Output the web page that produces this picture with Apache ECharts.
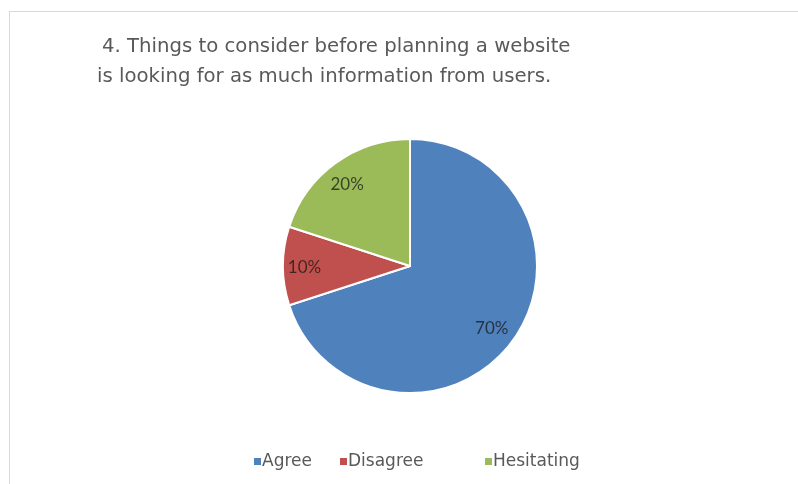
<!DOCTYPE html>
<html>
<head>
<meta charset="utf-8">
<script src="https://cdn.jsdelivr.net/npm/echarts@6/dist/echarts.min.js"></script>
<style>
  html, body { margin: 0; padding: 0; background: #ffffff; }
  #chart { width: 798px; height: 484px; }
</style>
</head>
<body>
<div id="chart"></div>
<script>
// Survey answers for statement 4
const titleLines = [
  '4. Things to consider before planning a website',
  'is looking for as much information from users.'
];
const categories = ['Agree', 'Disagree', 'Hesitating'];
const shares = [70, 10, 20];
const sliceColors = ['#4F81BD', '#C0504D', '#9BBB59'];

const pieData = categories.map((name, i) => ({
  name: name,
  value: shares[i],
  itemStyle: { color: sliceColors[i] }
}));

const chart = echarts.init(document.getElementById('chart'), null, { renderer: 'canvas' });

const legendLefts = [254, 340, 485];
const titleFont = { fontFamily: 'DejaVu Sans', fontSize: 19.7, fontWeight: 'normal', color: '#595959' };

chart.setOption({
  backgroundColor: '#ffffff',
  animation: false,
  title: [
    { text: titleLines[0], left: 102, top: 37, padding: 0, textStyle: titleFont },
    { text: titleLines[1], left: 97, top: 67, padding: 0, textStyle: titleFont }
  ],
  legend: categories.map((name, i) => ({
    data: [name],
    left: legendLefts[i],
    top: 453,
    padding: 0,
    icon: 'rect',
    itemWidth: 7,
    itemHeight: 7,
    itemGap: 2,
    selectedMode: false,
    itemStyle: { borderWidth: 0 },
    textStyle: { fontFamily: 'DejaVu Sans', fontSize: 17, color: '#595959', padding: [0, 0, 0, -4] }
  })),
  graphic: [
    { type: 'line', shape: { x1: 9, y1: 11.5, x2: 798, y2: 11.5 }, style: { stroke: '#d9d9d9', lineWidth: 1 } },
    { type: 'line', shape: { x1: 9.5, y1: 11, x2: 9.5, y2: 484 }, style: { stroke: '#d9d9d9', lineWidth: 1 } }
  ],
  series: [
    {
      type: 'pie',
      center: [410, 266],
      radius: [0, 127],
      startAngle: 90,
      clockwise: true,
      silent: true,
      data: pieData,
      itemStyle: { borderColor: '#ffffff', borderWidth: 2 },
      label: { show: false },
      labelLine: { show: false }
    },
    {
      // transparent ring that only places the percentage labels
      type: 'pie',
      center: [408, 268],
      radius: [74, 127],
      startAngle: 90,
      clockwise: true,
      silent: true,
      data: categories.map((name, i) => ({ name: name, value: shares[i] })),
      itemStyle: { color: 'rgba(0,0,0,0)', borderWidth: 0 },
      label: {
        show: true,
        position: 'inside',
        formatter: '{c}%',
        fontFamily: 'Lato',
        fontSize: 17,
        color: 'rgba(20,20,20,0.72)'
      },
      labelLine: { show: false }
    }
  ]
});
</script>
</body>
</html>
